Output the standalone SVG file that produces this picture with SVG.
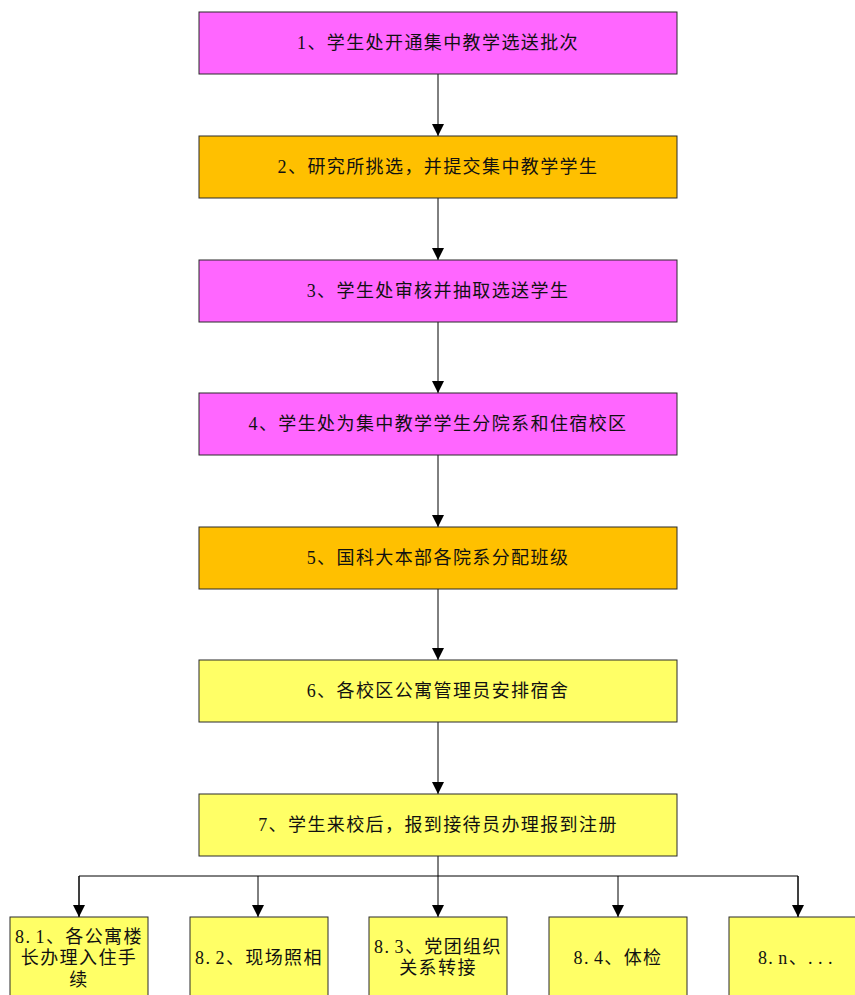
<svg xmlns="http://www.w3.org/2000/svg" width="855" height="995" viewBox="0 0 855 995">
  <style>
    .box { stroke: #2a2a2a; stroke-width: 1; }
    .pink { fill: #FF66FF; }
    .orange { fill: #FFC000; }
    .yellow { fill: #FFFF66; }
    text { font-family: "Liberation Serif", "Noto Sans CJK SC", serif; font-size: 18px; fill: #111; text-anchor: middle; dominant-baseline: central; letter-spacing: 1.4px; }
    .dot { letter-spacing: 5.5px; }
    .conn { stroke: #000; stroke-width: 1; fill: none; }
  </style>
  <defs>
    <marker id="arrow" viewBox="0 0 12 12" refX="12" refY="6" markerWidth="12" markerHeight="12" markerUnits="userSpaceOnUse" orient="auto">
      <path d="M0,0 L12,6 L0,12 Z" fill="#000"/>
    </marker>
  </defs>

  <rect width="855" height="995" fill="#fff"/>

  <!-- connectors -->
  <g id="connectors">
    <line class="conn" x1="438" y1="74" x2="438" y2="136" marker-end="url(#arrow)"/>
    <line class="conn" x1="438" y1="198" x2="438" y2="260" marker-end="url(#arrow)"/>
    <line class="conn" x1="438" y1="322" x2="438" y2="393" marker-end="url(#arrow)"/>
    <line class="conn" x1="438" y1="455" x2="438" y2="527" marker-end="url(#arrow)"/>
    <line class="conn" x1="438" y1="589" x2="438" y2="660" marker-end="url(#arrow)"/>
    <line class="conn" x1="438" y1="722" x2="438" y2="794" marker-end="url(#arrow)"/>
    <line class="conn" x1="438" y1="856" x2="438" y2="917" marker-end="url(#arrow)"/>
    <polyline class="conn" points="79,917 79,876 798,876 798,917"/>
    <line class="conn" x1="79" y1="876" x2="79" y2="917" marker-end="url(#arrow)"/>
    <line class="conn" x1="258" y1="876" x2="258" y2="917" marker-end="url(#arrow)"/>
    <line class="conn" x1="618" y1="876" x2="618" y2="917" marker-end="url(#arrow)"/>
    <line class="conn" x1="798" y1="876" x2="798" y2="917" marker-end="url(#arrow)"/>
  </g>

  <!-- main steps -->
  <g id="step1">
    <rect class="box pink" x="199" y="12" width="478" height="62"/>
    <text x="438" y="43">1、学生处开通集中教学选送批次</text>
  </g>
  <g id="step2">
    <rect class="box orange" x="199" y="136" width="478" height="62"/>
    <text x="438" y="167">2、研究所挑选，并提交集中教学学生</text>
  </g>
  <g id="step3">
    <rect class="box pink" x="199" y="260" width="478" height="62"/>
    <text x="438" y="291">3、学生处审核并抽取选送学生</text>
  </g>
  <g id="step4">
    <rect class="box pink" x="199" y="393" width="478" height="62"/>
    <text x="438" y="424">4、学生处为集中教学学生分院系和住宿校区</text>
  </g>
  <g id="step5">
    <rect class="box orange" x="199" y="527" width="478" height="62"/>
    <text x="438" y="558">5、国科大本部各院系分配班级</text>
  </g>
  <g id="step6">
    <rect class="box yellow" x="199" y="660" width="478" height="62"/>
    <text x="438" y="691">6、各校区公寓管理员安排宿舍</text>
  </g>
  <g id="step7">
    <rect class="box yellow" x="199" y="794" width="478" height="62"/>
    <text x="438" y="825">7、学生来校后，报到接待员办理报到注册</text>
  </g>

  <!-- parallel sub-steps -->
  <g id="step8-1">
    <rect class="box yellow" x="10" y="917" width="138" height="90"/>
    <text x="79" y="937">8<tspan class="dot">.</tspan>1、各公寓楼</text>
    <text x="79" y="958">长办理入住手</text>
    <text x="79" y="980">续</text>
  </g>
  <g id="step8-2">
    <rect class="box yellow" x="190" y="917" width="138" height="90"/>
    <text x="259" y="958">8<tspan class="dot">.</tspan>2、现场照相</text>
  </g>
  <g id="step8-3">
    <rect class="box yellow" x="369" y="917" width="138" height="90"/>
    <text x="438" y="947">8<tspan class="dot">.</tspan>3、党团组织</text>
    <text x="438" y="968">关系转接</text>
  </g>
  <g id="step8-4">
    <rect class="box yellow" x="549" y="917" width="138" height="90"/>
    <text x="618" y="958">8<tspan class="dot">.</tspan>4、体检</text>
  </g>
  <g id="step8-n">
    <rect class="box yellow" x="729" y="917" width="138" height="90"/>
    <text x="798" y="958">8<tspan class="dot">.</tspan>n、<tspan class="dot">...</tspan></text>
  </g>
</svg>
